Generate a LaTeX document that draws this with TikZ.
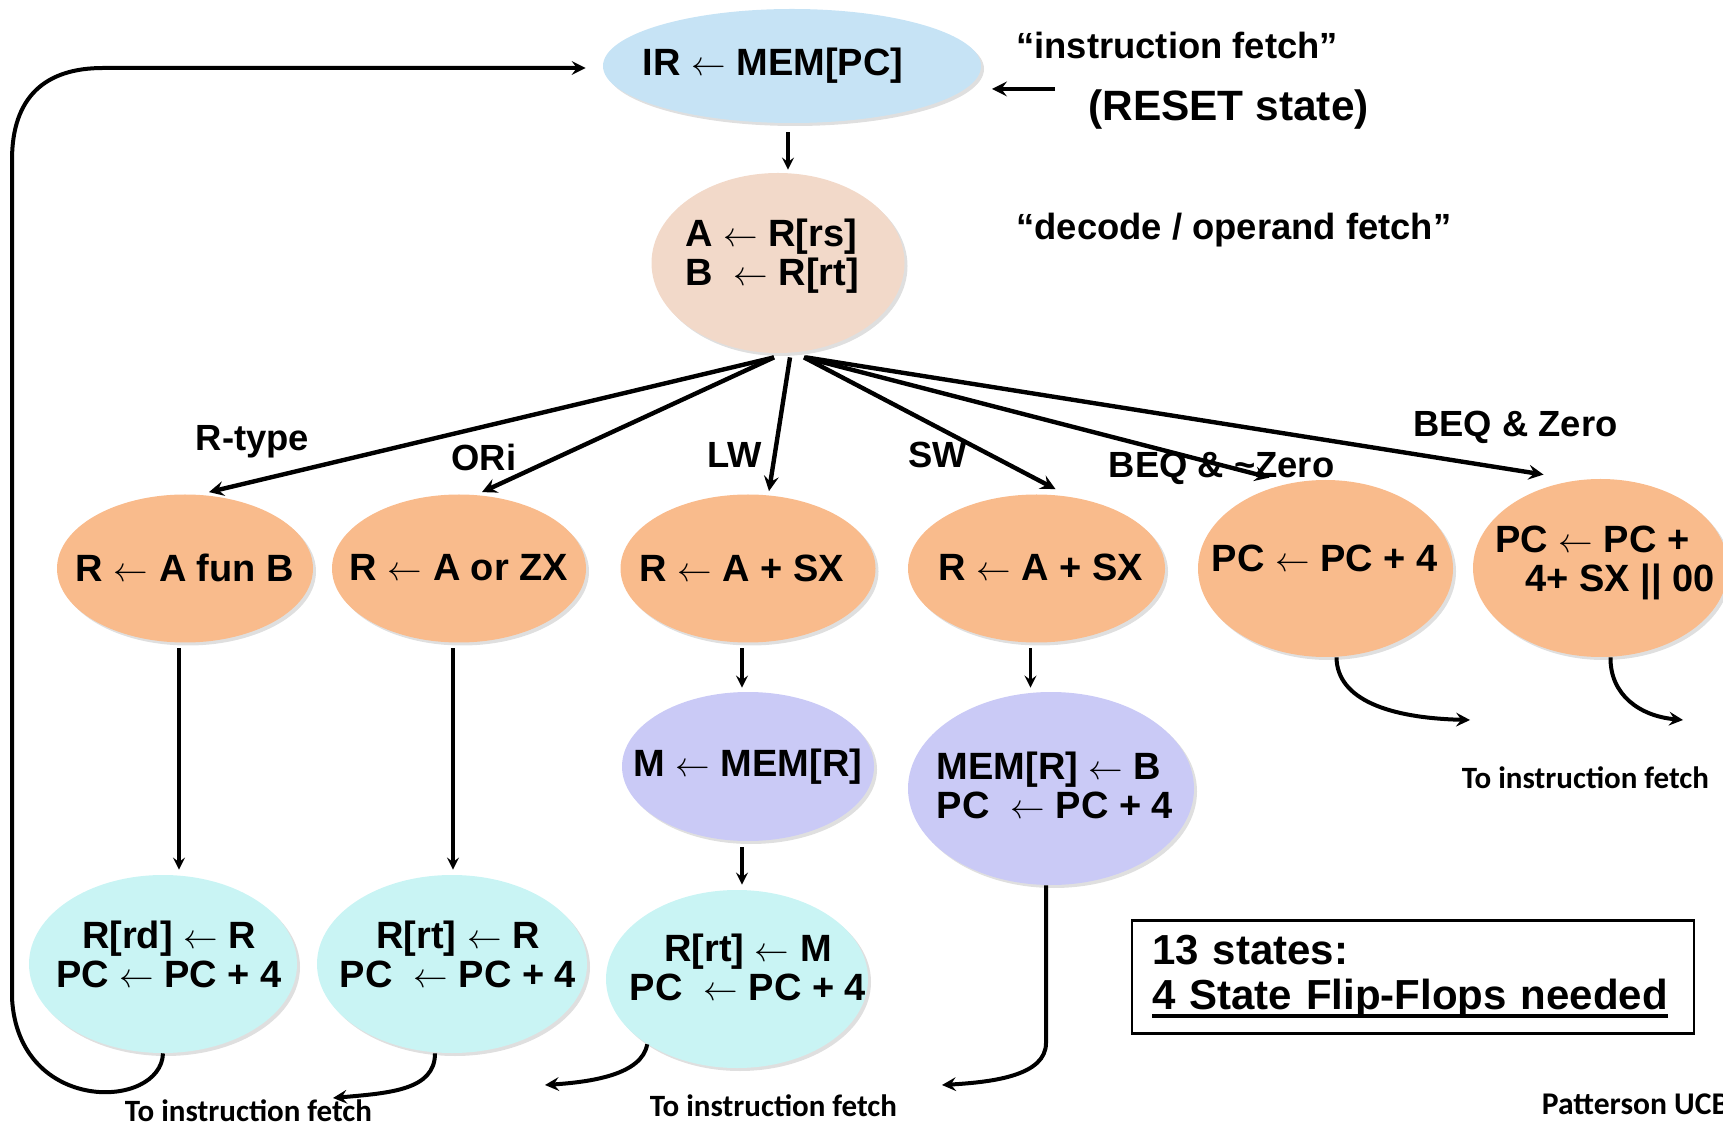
\documentclass[tikz,border=0pt]{standalone}
\usepackage{fontspec}
\setmainfont{Liberation Sans}
\newfontfamily\califont{Carlito}
\usetikzlibrary{shapes.geometric,shadows}
\definecolor{irblue}{RGB}{198,227,245}
\definecolor{decpeach}{RGB}{242,217,201}
\definecolor{aluorange}{RGB}{249,187,140}
\definecolor{memlilac}{RGB}{202,202,246}
\definecolor{wbcyan}{RGB}{201,244,244}
\newcommand\thickul[1]{\leavevmode\setbox0\hbox{#1}\rlap{\rule[-4.2pt]{\wd0}{2pt}}\box0}
\tikzset{
  fsm/.style n args={2}{ellipse,inner sep=0pt,minimum width=#1,minimum height=#2,
    drop shadow={opacity=0.25,shadow xshift=1.5pt,shadow yshift=-1.5pt}},
  stxt/.style={inner sep=0pt,align=center,font=\fontsize{19}{19.5}\selectfont\bfseries},
  lbl/.style={inner sep=0pt,font=\fontsize{18.2}{20}\selectfont\bfseries},
  note/.style={inner sep=0pt,font=\fontsize{15.5}{17}\selectfont\califont\bfseries},
  fan/.style={line width=2.2pt,-stealth},
  dn/.style={line width=1.6pt,-stealth},
  back/.style={line width=2pt,-stealth},
}
\begin{document}
\begin{tikzpicture}[x=0.5pt,y=-0.5pt]
  \useasboundingbox (0,0) rectangle (1723,1127);

  \node[fsm={189pt}{57pt},fill=irblue] (ir) at (792,66) {};
  \node[fsm={126.5pt}{90pt},fill=decpeach] (dec) at (778,263) {};
  \node[fsm={128pt}{74pt},fill=aluorange] (rfun) at (185,568.5) {};
  \node[fsm={127pt}{74pt},fill=aluorange] (rori) at (459,568.5) {};
  \node[fsm={127.5pt}{74pt},fill=aluorange] (rlw) at (748,568.5) {};
  \node[fsm={128.5pt}{74pt},fill=aluorange] (rsw) at (1036.5,568.5) {};
  \node[fsm={127.5pt}{88.5pt},fill=aluorange] (beqn) at (1325.5,568.5) {};
  \node[fsm={127.5pt}{89pt},fill=aluorange] (beqz) at (1600.5,568) {};
  \node[fsm={126pt}{74.5pt},fill=memlilac] (mem) at (748,766.5) {};
  \node[fsm={143pt}{96.5pt},fill=memlilac] (sto) at (1051,788.5) {};
  \node[fsm={134pt}{89pt},fill=wbcyan] (wbr) at (163,964) {};
  \node[fsm={135pt}{89pt},fill=wbcyan] (wbi) at (452,964) {};
  \node[fsm={131pt}{89pt},fill=wbcyan] (wbl) at (737,979) {};

  \node[stxt] (irt) at (773,66) {IR $\leftarrow$ MEM[PC]};
  \node[stxt,align=left] (dect) at (772,256) {A $\leftarrow$ R[rs]\\B\ \ $\leftarrow$ R[rt]};
  \node[stxt] (rfunt) at (185,568) {R $\leftarrow$ A fun B};
  \node[stxt] (rorit) at (459,568) {R $\leftarrow$ A or ZX};
  \node[stxt] (rlwt) at (742,568) {R $\leftarrow$ A + SX};
  \node[stxt] (rswt) at (1041,567) {R $\leftarrow$ A + SX};
  \node[stxt] (beqnt) at (1324.5,558) {PC $\leftarrow$ PC + 4};
  \node[stxt,align=left] (beqzt) at (1605,563) {PC $\leftarrow$ PC +\\\hspace*{15pt}4+ SX || 00};
  \node[stxt] (memt) at (748,767) {M $\leftarrow$ MEM[R]};
  \node[stxt,align=left] (stot) at (1055,785) {MEM[R] $\leftarrow$ B\\PC \ $\leftarrow$ PC + 4};
  \node[stxt] (wbrt) at (169,954) {R[rd] $\leftarrow$ R\\PC $\leftarrow$ PC + 4};
  \node[stxt] (wbit) at (458,954) {R[rt] $\leftarrow$ R\\PC \ $\leftarrow$ PC + 4};
  \node[stxt] (wblt) at (748,967) {R[rt] $\leftarrow$ M\\PC \ $\leftarrow$ PC + 4};

  \node[lbl,anchor=west] (ifl) at (1016,45) {“instruction fetch”};
  \node[lbl,anchor=west,font=\fontsize{21.2}{23}\selectfont\bfseries] (rstl) at (1088,110) {(RESET state)};
  \node[lbl,anchor=west] (decl) at (1016,230) {“decode / operand fetch”};
  \node[lbl] (rtl) at (252.5,442) {R-type};
  \node[lbl] (oril) at (484,457) {ORi};
  \node[lbl] (lwl) at (734.5,455) {LW};
  \node[lbl] (swl) at (938,455) {SW};
  \node[lbl] (beqnl) at (1221.5,468) {BEQ \& \textasciitilde Zero};
  \node[lbl] (beqzl) at (1515.5,427) {BEQ \& Zero};

  \node[note] (tifa) at (248.5,1111) {To instruction fetch};
  \node[note] (tifb) at (773.5,1106) {To instruction fetch};
  \node[note] (tifc) at (1585.5,778) {To instruction fetch};
  \node[note,anchor=west,font=\fontsize{15.8}{18}\selectfont\califont\bfseries] (pat) at (1541.5,1104) {Patterson UCB};

  \node[draw,line width=1.2pt,minimum width=281pt,minimum height=56.5pt,text width=261pt,
    inner xsep=10pt,align=left,font=\fontsize{21}{22.5}\selectfont\bfseries] (cnt) at (1413,977)
    {13 states:\\\thickul{4 State Flip-Flops needed}};

  \coordinate (rsta) at (1055,89);
  \coordinate (rstb) at (992,89);
  \coordinate (tofa) at (333,1098);
  \coordinate (tofb) at (545,1085);
  \coordinate (tofc) at (942,1085);
  \coordinate (tofd) at (1470,720);
  \coordinate (tofe) at (1683,720);

  \draw[fan] (rsta) -- (rstb);
  \draw[dn,shorten <=4.5pt,shorten >=1.5pt] ([xshift=-2pt]ir.south) -- ([xshift=-2pt]ir.south |- dec.north);

  \draw[fan] ([xshift=-2pt,yshift=-2pt]dec.south) -- ([xshift=12pt,yshift=1pt]rfun.north);
  \draw[fan] ([xshift=-2pt,yshift=-2pt]dec.south) -- ([xshift=11.5pt,yshift=1pt]rori.north);
  \draw[fan] ([xshift=6pt,yshift=-2pt]dec.south) -- ([xshift=10.5pt,yshift=1.5pt]rlw.north);
  \draw[fan] ([xshift=13pt,yshift=-2pt]dec.south) -- ([xshift=9.5pt,yshift=2.5pt]rsw.north);
  \draw[fan] ([xshift=13pt,yshift=-2pt]dec.south) -- ([xshift=-28pt,yshift=1pt]beqn.north);
  \draw[fan] ([xshift=14pt,yshift=-2pt]dec.south) -- ([xshift=-28.5pt,yshift=2pt]beqz.north);

  \draw[dn,shorten <=2.75pt,shorten >=2.5pt] ([xshift=-3pt]rfun.south) -- ([xshift=-3pt]rfun.south |- wbr.north);
  \draw[dn,shorten <=2.75pt,shorten >=2.5pt] ([xshift=-3pt]rori.south) -- ([xshift=-3pt]rori.south |- wbi.north);
  \draw[dn,shorten <=2.75pt,shorten >=2pt] ([xshift=-3pt]rlw.south) -- ([xshift=-3pt]rlw.south |- mem.north);
  \draw[dn,shorten <=3pt,shorten >=2.5pt] ([xshift=-3pt]mem.south) -- ([xshift=-3pt]mem.south |- wbl.north);
  \draw[dn,shorten <=2.75pt,shorten >=2pt] ([xshift=-3pt]rsw.south) -- ([xshift=-3pt]rsw.south |- sto.north);

  \draw[back,shorten >=8.5pt] (wbr.south) .. controls (161,1110) and (18,1115) .. (12,998)
    -- (12,160) .. controls (12,97) and (45,68) .. (103,68) -- ([yshift=-1pt]ir.west);
  \draw[back] ([xshift=-8.5pt]wbi.south) .. controls (435,1090) and (390,1093) .. (tofa);
  \draw[back] (wbl.-144) .. controls (642,1075) and (590,1082) .. (tofb);
  \draw[back] ([xshift=-2.5pt]sto.south) -- (1046,1043) .. controls (1046,1075) and (995,1082) .. (tofc);
  \draw[back] ([xshift=5.5pt]beqn.south) .. controls (1337,700) and (1390,718) .. (tofd);
  \draw[back] ([xshift=5pt]beqz.south) .. controls (1610,695) and (1640,716) .. (tofe);
\end{tikzpicture}
\end{document}
